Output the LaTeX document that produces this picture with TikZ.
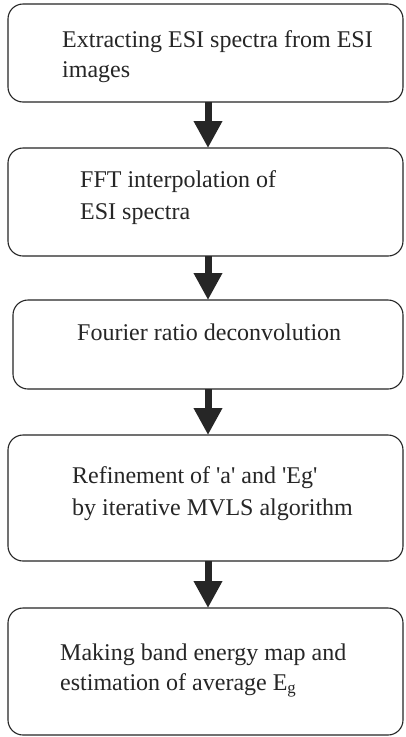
\documentclass[tikz,border=0pt]{standalone}
\usepackage{fontspec}
\setmainfont{Liberation Serif}
\usetikzlibrary{arrows.meta}
\begin{document}
\begin{tikzpicture}[x=1pt,y=-1pt,
  stepbox/.style={draw=black!85, line width=1.1pt, rounded corners=15pt, inner sep=0pt, outer sep=0pt},
  label/.style={anchor=base west, inner sep=0pt, font=\fontsize{24}{30}\selectfont, text=black!85},
  flow/.style={line width=7pt, draw=black!85, -{Triangle[width=27pt,length=27pt]}}]
\useasboundingbox (0,0) rectangle (405,737);
\path[fill=white] (0,0) rectangle (405,737);
% boxes
\node[stepbox, minimum width=395pt, minimum height=98pt]  (b1) at (205.5,53) {};
\node[stepbox, minimum width=395pt, minimum height=108pt] (b2) at (205.5,202) {};
\node[stepbox, minimum width=390pt, minimum height=89pt]  (b3) at (208,344.5) {};
\node[stepbox, minimum width=395pt, minimum height=126pt] (b4) at (205.5,498) {};
\node[stepbox, minimum width=395pt, minimum height=127pt] (b5) at (205.5,671.5) {};
\coordinate (axis) at (208,0);
% texts
\node[label] (t1a) at (62,47) {Extracting ESI spectra from ESI};
\node[label] (t1b) at (62,77) {images};
\node[label] (t2a) at (80,187) {FFT interpolation of};
\node[label] (t2b) at (80,219) {ESI spectra};
\node[label] (t3a) at (77,340) {Fourier ratio deconvolution};
\node[label] (t4a) at (72,483) {Refinement of \textquotesingle a\textquotesingle{} and \textquotesingle Eg\textquotesingle};
\node[label] (t4b) at (72,515) {by iterative MVLS algorithm};
\node[label] (t5a) at (60,660) {Making band energy map and};
\node[label] (t5b) at (60,690) {estimation of average E\textsubscript{g}};
% arrows
\draw[flow] (b1.south -| axis) -- (b2.north -| axis);
\draw[flow] (b2.south -| axis) -- (b3.north -| axis);
\draw[flow] (b3.south -| axis) -- (b4.north -| axis);
\draw[flow] (b4.south -| axis) -- (b5.north -| axis);
\end{tikzpicture}
\end{document}
